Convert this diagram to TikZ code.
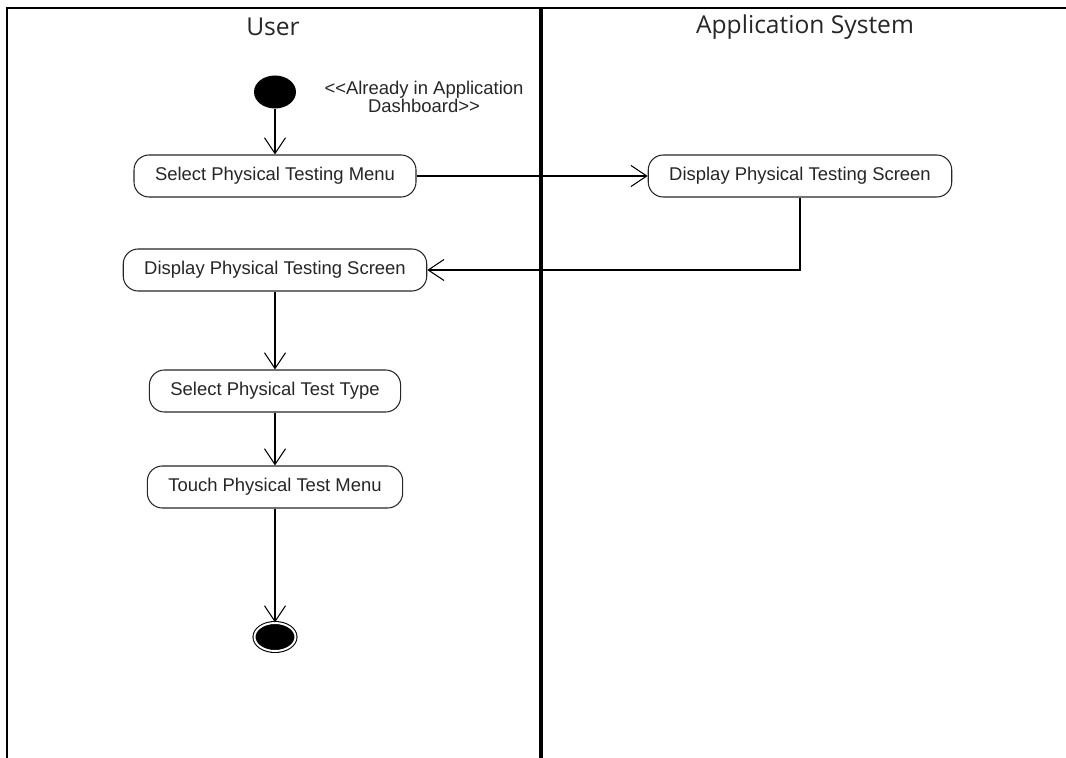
\documentclass[tikz,border=0pt]{standalone}
\usepackage{fontspec}
\setmainfont{Liberation Sans}
\newfontfamily\titulo{Open Sans}
\usetikzlibrary{shapes.geometric, arrows.meta}
\tikzstyle{arrow} = [
	line width=0.6pt,
	-{Straight Barb[length=9pt,width=12pt]},
	black,
]
\tikzstyle{accion} = [
  rectangle,
  rounded corners=0.3cm,
  minimum height=0.84cm,
  inner xsep=0.42cm,
  text centered,
  line width=0.6pt,
  draw=black!85,
  fill=white,
  text=black!85,
  font=\fontsize{10.5}{11}\selectfont
]
\tikzstyle{inicio} = [
  ellipse,
  fill=black,
  minimum width=0.84cm,
  minimum height=0.66cm,
  inner sep=0pt
]
\tikzstyle{fin} = [
  ellipse,
  line width=0.6pt,
  draw=black,
  double=white,
  double distance=1.1pt,
  fill=black,
  minimum width=0.82cm,
  minimum height=0.56cm,
  inner sep=0pt
]
\tikzstyle{carril} = [
  text=black!85,
  font=\titulo\fontsize{14}{16}\selectfont
]
\tikzstyle{nota} = [
  align=center,
  text=black!85,
  font=\fontsize{10.5}{10}\selectfont
]

\begin{document}
\begin{tikzpicture}
    \useasboundingbox (0,0) rectangle (21.32,-15.16);
    % swimlanes
    \draw[line width=1.1pt] (0.14,-15.16) -- (0.14,-0.16) -- (21.32,-0.16);
    \draw[line width=2.2pt] (10.82,-0.16) -- (10.82,-15.16);
    \node[carril] (U) at (5.46,-0.54) {User};
    \node[carril] (S) at (16.1,-0.54) {Application System};

    \node[inicio] (I) at (5.5,-1.84) {};
    \node[nota] (N) at (8.48,-1.94) {{<}{<}Already in Application\\ Dashboard{>}{>}};
    \node[accion] (A) at (5.5,-3.52) {Select Physical Testing Menu};
    \node[accion] (B) at (16.0,-3.52) {Display Physical Testing Screen};
    \node[accion] (C) at (5.5,-5.4) {Display Physical Testing Screen};
    \node[accion] (D) at (5.5,-7.82) {Select Physical Test Type};
    \node[accion] (E) at (5.5,-9.74) {Touch Physical Test Menu};
    \node[fin] (F) at (5.5,-12.74) {};

    \draw[arrow] (I) -- (A);
    \draw[arrow] (A) -- (B);
    \draw[arrow] (B.south) |- (C.east);
    \draw[arrow] (C) -- (D);
    \draw[arrow] (D) -- (E);
    \draw[arrow] (E) -- (F);
  \end{tikzpicture}
\end{document}
